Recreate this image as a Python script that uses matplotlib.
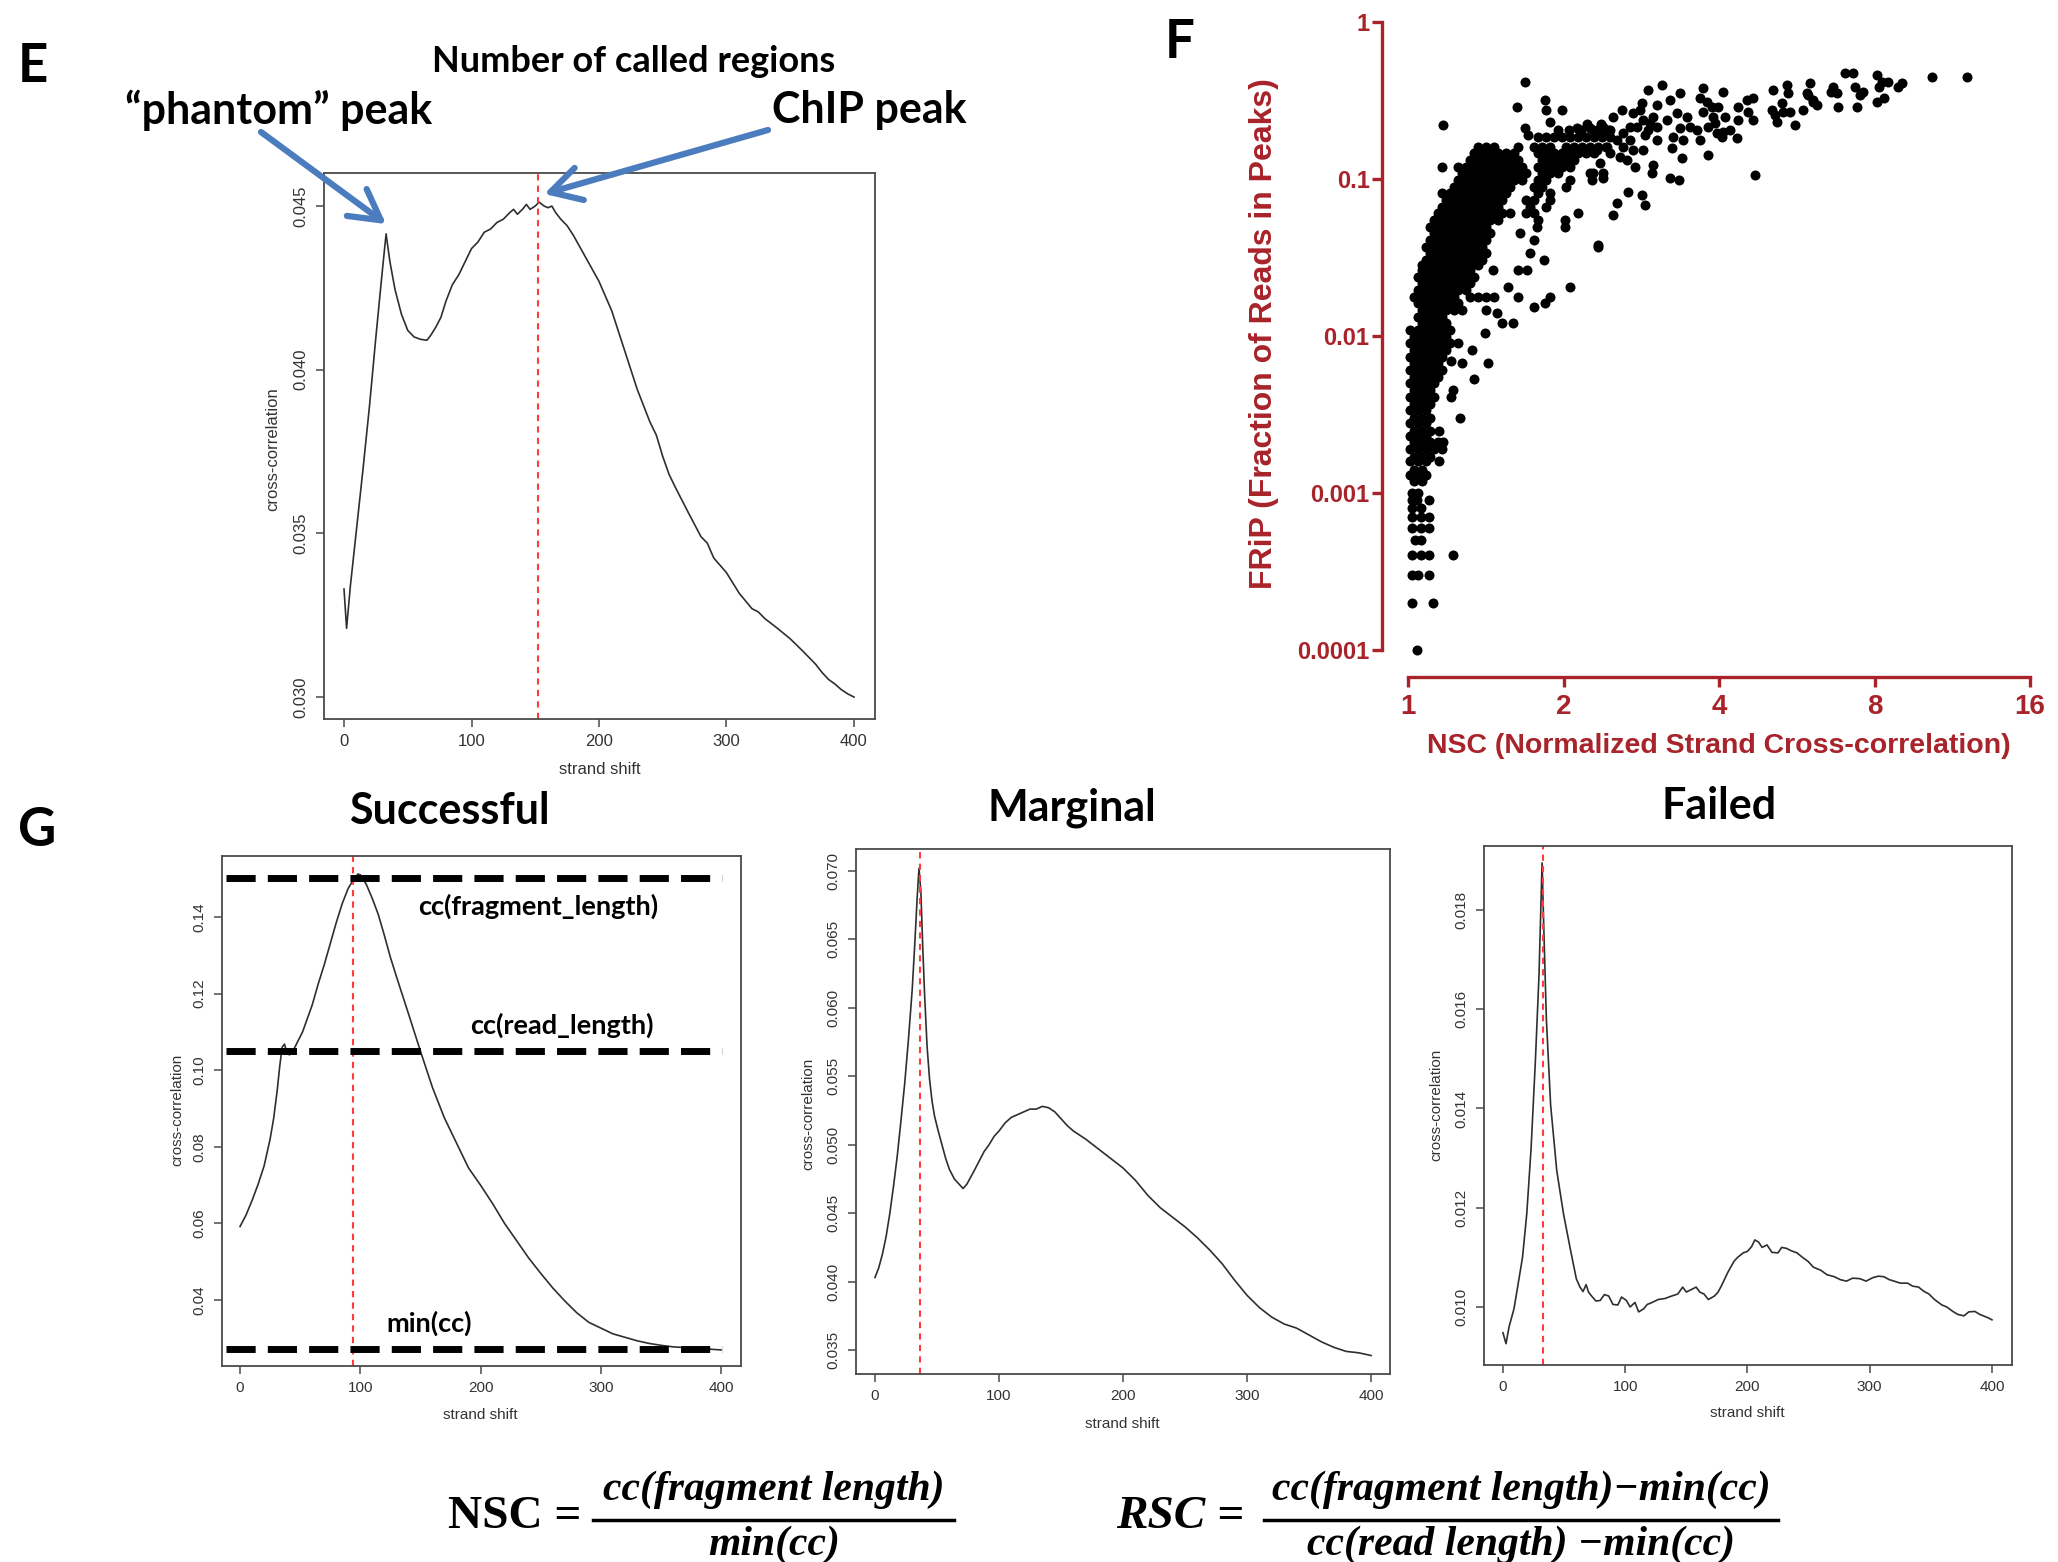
import numpy as np
import matplotlib.pyplot as plt
from matplotlib.lines import Line2D
from matplotlib.ticker import NullLocator

plt.rcParams['font.family'] = ['Liberation Sans', 'DejaVu Sans']

W, H = 2058, 1562

# ---- panel E: cross-correlation profile ----
e_shift = [0, 2, 5, 10, 15, 20, 25, 30, 33, 36, 40, 45, 50, 55, 60, 65, 68, 72, 76, 80,
           85, 90, 95, 100, 105, 110, 115, 120, 125, 130, 133, 136, 140, 143, 146, 150, 153, 157, 160, 163,
           166, 170, 175, 180, 190, 200, 210, 220, 230, 240, 245, 250, 255, 260, 270, 280, 285, 290, 300, 310,
           320, 325, 330, 340, 350, 360, 370, 375, 380, 385, 390, 395, 400]
e_cc = [0.0333, 0.0321, 0.0334, 0.0352, 0.0370, 0.0389, 0.0410, 0.0430, 0.04415, 0.0433,
        0.04245, 0.0417, 0.0412, 0.0410, 0.04093, 0.0409, 0.04105, 0.0413, 0.0416, 0.0421,
        0.0426, 0.0429, 0.0433, 0.0437, 0.0439, 0.0442, 0.0443, 0.0445, 0.0446, 0.0448,
        0.0449, 0.04475, 0.0449, 0.04505, 0.0449, 0.0450, 0.04512, 0.0450, 0.04495, 0.0450,
        0.0448, 0.0446, 0.0444, 0.0441, 0.0434, 0.0427, 0.0418, 0.0406, 0.0394, 0.0384,
        0.0380, 0.03735, 0.0368, 0.0364, 0.03564, 0.0349, 0.0347, 0.03425, 0.0338, 0.03317,
        0.0327, 0.0326, 0.0324, 0.0321, 0.03178, 0.0314, 0.0310, 0.03075, 0.03054, 0.0304,
        0.03023, 0.0301, 0.0300]
e_fragment_shift = 152
e_phantom_tip = (33, 0.04445)
e_chip_tip = (157, 0.04537)

# ---- panel G: successful / marginal / failed ----
succ_shift = [0, 5, 10, 15, 20, 25, 28, 31, 33, 35, 37, 39, 41, 44, 48, 52, 56, 60, 65, 70,
              75, 80, 85, 90, 95, 98, 100, 105, 110, 115, 120, 125, 130, 140, 150, 160, 170, 180, 190, 200,
              210, 220, 230, 240, 250, 260, 270, 280, 290, 300, 310, 320, 330, 340, 350, 360, 370, 380, 390, 400]
succ_cc = [0.0592, 0.0622, 0.0660, 0.0702, 0.0750, 0.0820, 0.0875, 0.0950, 0.1010, 0.1060,
           0.1068, 0.1045, 0.1040, 0.1050, 0.1075, 0.1100, 0.1135, 0.1170, 0.1225, 0.1275,
           0.1330, 0.1385, 0.1435, 0.1475, 0.1500, 0.1512, 0.1510, 0.1485, 0.1448, 0.1406,
           0.1352, 0.1295, 0.1245, 0.1148, 0.1050, 0.0955, 0.0875, 0.0810, 0.0745, 0.0700,
           0.0652, 0.0600, 0.0555, 0.0510, 0.0470, 0.0432, 0.0398, 0.0367, 0.0342, 0.0327,
           0.0312, 0.0303, 0.0294, 0.0287, 0.0282, 0.0278, 0.0276, 0.0274, 0.0272, 0.0270]
succ_fragment_shift = 94
succ_levels = [0.1502, 0.1050, 0.0272]
succ_level_names = ['cc(fragment_length)', 'cc(read_length)', 'min(cc)']
succ_level_text_pos = [(248, 0.1428), (268, 0.1118), (157, 0.0339)]

marg_shift = [0, 3, 6, 9, 12, 15, 18, 21, 24, 27, 30, 32, 34, 35.5, 37, 38.5, 40, 42, 44, 46,
              48, 51, 54, 57, 60, 64, 68, 71, 74, 77, 80, 84, 88, 92, 96, 100, 105, 110, 115, 120,
              125, 130, 135, 140, 145, 150, 155, 160, 170, 180, 190, 200, 210, 220, 230, 240, 250, 260, 270, 280,
              290, 300, 310, 320, 330, 340, 350, 360, 370, 380, 390, 400]
marg_cc = [0.0403, 0.0410, 0.0420, 0.0433, 0.0450, 0.0470, 0.0492, 0.0518, 0.0545, 0.0577,
           0.0613, 0.0645, 0.0680, 0.0702, 0.0685, 0.0645, 0.0610, 0.0572, 0.0548, 0.0532,
           0.0521, 0.0510, 0.0500, 0.0490, 0.0482, 0.0475, 0.0471, 0.0468, 0.0471, 0.0476,
           0.0481, 0.0488, 0.0495, 0.0500, 0.0506, 0.0510, 0.0516, 0.0520, 0.0522, 0.0524,
           0.0526, 0.0526, 0.0528, 0.0527, 0.0524, 0.0519, 0.0514, 0.0510, 0.0504, 0.0497,
           0.0490, 0.0483, 0.0474, 0.0463, 0.0454, 0.0447, 0.0440, 0.0432, 0.0423, 0.0413,
           0.0401, 0.0390, 0.0381, 0.0374, 0.0369, 0.0366, 0.0361, 0.0356, 0.0352, 0.0349,
           0.0348, 0.0346]
marg_fragment_shift = 36

fail_shift = [0, 2.5, 5, 9, 12, 16, 19.5, 23, 26.5, 29.5,
              32, 33.5, 35.5, 39, 44, 49.5, 55, 60, 63, 65.5,
              68, 70, 72.5, 76, 79.5, 83, 86.5, 90, 94, 97,
              101, 104, 108, 111, 115, 118, 122, 127, 132.5, 138,
              143, 147, 150, 154, 158, 161, 164.5, 168, 173, 176,
              179, 184, 189, 192, 196.5, 200, 203.5, 206, 209, 212,
              216, 220, 225, 228, 232, 236, 240.5, 245, 249.5, 254,
              260, 265, 271, 276, 281, 286, 292, 297, 302.5, 307,
              311.5, 316, 320, 325, 331, 335, 340, 344, 348.5, 353,
              359, 363, 368, 372, 377, 381, 386, 390, 393, 397,
              400]
fail_cc = [0.00948, 0.00926, 0.00960, 0.00996, 0.0104, 0.0110, 0.01188, 0.01319, 0.01494, 0.01669,
           0.01895, 0.01756, 0.01581, 0.01407, 0.01275, 0.01188, 0.01118, 0.01057, 0.01040, 0.01031,
           0.01045, 0.01030, 0.01022, 0.01012, 0.01013, 0.01025, 0.01022, 0.01005, 0.01004, 0.01020,
           0.01013, 0.01000, 0.01009, 0.00990, 0.00996, 0.01005, 0.01009, 0.01015, 0.01017, 0.01022,
           0.01026, 0.01040, 0.01030, 0.01035, 0.01040, 0.01030, 0.01026, 0.01015, 0.01022, 0.01030,
           0.01044, 0.0107, 0.01092, 0.01100, 0.01109, 0.01112, 0.01122, 0.01135, 0.01131, 0.01120,
           0.01125, 0.01110, 0.01109, 0.01120, 0.01118, 0.01113, 0.01109, 0.01100, 0.01092, 0.01080,
           0.01074, 0.01065, 0.01061, 0.01055, 0.01052, 0.01058, 0.01057, 0.01052, 0.01059, 0.01062,
           0.01061, 0.01055, 0.01052, 0.01048, 0.01048, 0.01042, 0.0104, 0.01032, 0.01026, 0.01015,
           0.01004, 0.01000, 0.00991, 0.00985, 0.00982, 0.00990, 0.00991, 0.00985, 0.00982, 0.00978,
           0.00974]
fail_fragment_shift = 32.6

# ---- panel F: FRiP vs NSC per dataset ----
# dense part of the cloud, one FRiP level per row with the NSC values found on it
rows_upper = [
    (0.225, [2.22, 2.36]),
    (0.205, [1.95, 2.05, 2.16, 2.28, 2.40]),
    (0.185, [1.785, 1.850, 1.917, 1.987, 2.059, 2.133, 2.211, 2.291, 2.374, 2.461]),
    (0.160, [1.366, 1.416, 1.467, 1.633, 1.754, 1.817, 1.883, 2.022, 2.096, 2.172, 2.251, 2.333, 2.417]),
    (0.146, [1.342, 1.391, 1.441, 1.494, 1.548, 1.604, 1.785, 1.850, 1.917, 1.987, 2.059, 2.133, 2.211, 2.291]),
    (0.132, [1.318, 1.366, 1.416, 1.467, 1.521, 1.576, 1.633, 1.817, 1.883, 1.952, 2.022, 2.096]),
    (0.119, [1.164, 1.250, 1.295, 1.342, 1.391, 1.441, 1.494, 1.548, 1.604, 1.662, 1.785, 1.850, 1.917, 1.987, 2.059]),
    (0.109, [1.272, 1.318, 1.366, 1.416, 1.467, 1.521, 1.576, 1.633, 1.692, 1.817, 1.883, 1.952, 2.251, 2.39]),
    (0.0986, [1.250, 1.295, 1.342, 1.391, 1.441, 1.494, 1.548, 1.604, 1.662, 1.785, 1.850, 2.059]),
    (0.0889, [1.228, 1.272, 1.318, 1.366, 1.416, 1.467, 1.521, 1.576, 1.754, 1.817, 2.022]),
    (0.0815, [1.164, 1.206, 1.250, 1.295, 1.342, 1.391, 1.441, 1.494, 1.548, 1.785, 1.883]),
    (0.0735, [1.185, 1.228, 1.272, 1.318, 1.366, 1.416, 1.467, 1.521, 1.692, 1.754, 1.883]),
    (0.0664, [1.164, 1.206, 1.250, 1.295, 1.342, 1.391, 1.441, 1.494, 1.723, 1.850]),
    (0.0607, [1.143, 1.185, 1.228, 1.272, 1.318, 1.366, 1.416, 1.467, 1.521, 1.576, 1.692, 1.754, 2.13]),
    (0.0548, [1.123, 1.164, 1.206, 1.250, 1.295, 1.342, 1.391, 1.441, 1.494, 1.785, 2.01]),
    (0.0495, [1.103, 1.143, 1.185, 1.228, 1.272, 1.318, 1.366, 1.416, 1.78, 2.01]),
    (0.0453, [1.123, 1.164, 1.206, 1.250, 1.295, 1.342, 1.391, 1.441, 1.648]),
    (0.0409, [1.103, 1.143, 1.185, 1.228, 1.272, 1.318, 1.366, 1.416, 1.754]),
    (0.0369, [1.084, 1.123, 1.164, 1.206, 1.250, 1.295, 1.342, 1.391, 2.33]),
    (0.0338, [1.103, 1.143, 1.185, 1.228, 1.272, 1.318, 1.366, 1.416, 1.723]),
    (0.0305, [1.084, 1.123, 1.164, 1.206, 1.250, 1.295, 1.342, 1.391, 1.83]),
    (0.0284, [1.064, 1.103, 1.143, 1.185, 1.228, 1.272, 1.318, 1.366]),
]
rows_middle = [
    (0.0263, [1.064, 1.103, 1.143, 1.185, 1.228, 1.272, 1.318, 1.46, 1.63, 1.70]),
    (0.0238, [1.045, 1.084, 1.123, 1.164, 1.206, 1.250, 1.295, 1.342]),
    (0.0218, [1.064, 1.103, 1.143, 1.185, 1.228, 1.272, 1.318]),
    (0.0205, [1.56, 2.06]),
    (0.0196, [1.045, 1.084, 1.123, 1.164, 1.206, 1.250, 1.295]),
    (0.0177, [1.027, 1.064, 1.103, 1.143, 1.185, 1.228, 1.318, 1.366, 1.416, 1.47, 1.63, 1.88]),
    (0.0162, [1.045, 1.084, 1.123, 1.164, 1.206, 1.250, 1.84]),
    (0.0153, [1.75]),
    (0.0146, [1.064, 1.103, 1.143, 1.185, 1.228, 1.272, 1.416]),
    (0.0140, [1.49]),
    (0.0132, [1.045, 1.084, 1.123, 1.164]),
    (0.0121, [1.064, 1.103, 1.143, 1.185, 1.52, 1.60]),
    (0.0109, [1.009, 1.045, 1.084, 1.123, 1.164, 1.206]),
    (0.0105, [1.41]),
    (0.0099, [1.027, 1.064, 1.103, 1.143, 1.185]),
    (0.0090, [1.009, 1.045, 1.084, 1.123, 1.164, 1.206, 1.250]),
    (0.0081, [1.027, 1.064, 1.103, 1.143, 1.185, 1.33]),
    (0.0073, [1.009, 1.045, 1.084, 1.123, 1.164]),
    (0.0069, [1.21]),
    (0.0067, [1.027, 1.064, 1.103, 1.143, 1.27, 1.43]),
    (0.0061, [1.009, 1.045, 1.084, 1.123, 1.164]),
    (0.0055, [1.027, 1.064, 1.103, 1.143]),
    (0.0053, [1.34]),
    (0.0050, [1.009, 1.045, 1.084, 1.123]),
]
rows_lower = [
    (0.0045, [1.027, 1.064, 1.103, 1.22]),
    (0.0041, [1.009, 1.045, 1.084, 1.123, 1.21]),
    (0.0037, [1.027, 1.064, 1.103]),
    (0.0034, [1.009, 1.045, 1.084]),
    (0.0030, [1.027, 1.064, 1.103, 1.26]),
    (0.0028, [1.009, 1.045, 1.084]),
    (0.0025, [1.027, 1.064, 1.103, 1.15]),
    (0.0023, [1.009, 1.045, 1.084]),
    (0.0021, [1.027, 1.064, 1.103, 1.143, 1.17]),
    (0.0019, [1.009, 1.045, 1.084, 1.123, 1.164]),
    (0.0017, [1.027, 1.064, 1.103]),
    (0.0016, [1.009, 1.045, 1.084, 1.15]),
    (0.0014, [1.027, 1.064]),
    (0.0013, [1.009, 1.045, 1.084]),
    (0.0012, [1.027, 1.064]),
    (0.0010, [1.02, 1.045]),
    (0.0009, [1.02, 1.04, 1.10]),
    (0.0008, [1.02, 1.06]),
    (0.0007, [1.02, 1.06, 1.10]),
    (0.0006, [1.02, 1.06, 1.10]),
    (0.0005, [1.03, 1.06]),
    (0.0004, [1.02, 1.06, 1.10, 1.22]),
    (0.0003, [1.02, 1.045, 1.10]),
    (0.0002, [1.02, 1.12]),
    (0.0001, [1.04]),
]
# scattered datasets with higher NSC: (nsc, frip)
points_spread = [
    (12.08, 0.447), (10.34, 0.447), (9.04, 0.409), (8.89, 0.385), (8.5, 0.415), (8.27, 0.415),
    (8.09, 0.46), (8.18, 0.385), (8.33, 0.328), (8.1, 0.31), (7.27, 0.473), (7.02, 0.473),
    (7.33, 0.385), (7.6, 0.36), (7.5, 0.343), (7.4, 0.288), (6.8, 0.288), (6.64, 0.385),
    (6.6, 0.36), (6.77, 0.353), (6.0, 0.409), (5.92, 0.353), (6.07, 0.319), (6.19, 0.296),
    (5.82, 0.275), (5.95, 0.343), (6.07, 0.31), (5.61, 0.221), (5.49, 0.267), (5.42, 0.397),
    (5.44, 0.353), (5.3, 0.305), (5.33, 0.267), (5.18, 0.231), (5.09, 0.369), (5.07, 0.275),
    (5.14, 0.256), (4.07, 0.358), (4.35, 0.288), (4.53, 0.319), (4.65, 0.328), (4.55, 0.267),
    (4.35, 0.238), (4.65, 0.238), (4.2, 0.205), (4.33, 0.183), (4.05, 0.185), (4.11, 0.249),
    (3.98, 0.288), (3.93, 0.228), (4.7, 0.106), (3.72, 0.38), (3.68, 0.328), (3.79, 0.31),
    (3.88, 0.288), (3.72, 0.267), (3.89, 0.249), (3.81, 0.215), (3.96, 0.196), (4.07, 0.199),
    (3.63, 0.205), (3.68, 0.177), (3.81, 0.142), (3.10, 0.397), (3.36, 0.353), (3.21, 0.319),
    (3.03, 0.296), (2.91, 0.369), (2.84, 0.305), (3.32, 0.263), (3.47, 0.249), (3.17, 0.238),
    (3.51, 0.215), (3.36, 0.211), (3.26, 0.185), (3.41, 0.177), (3.24, 0.158), (3.39, 0.136),
    (3.21, 0.101), (3.34, 0.099), (2.98, 0.123), (2.97, 0.109), (2.75, 0.12), (3.03, 0.177),
    (2.88, 0.19), (2.69, 0.215), (2.67, 0.0825), (2.84, 0.079), (2.54, 0.0703), (2.88, 0.0681),
    (2.49, 0.059), (2.33, 0.038), (2.39, 0.101), (2.27, 0.099), (2.32, 0.196), (2.39, 0.215),
    (2.46, 0.205), (2.54, 0.177), (2.61, 0.196), (2.69, 0.177), (2.78, 0.215), (2.85, 0.238),
    (2.94, 0.228), (2.61, 0.160), (2.46, 0.146), (2.35, 0.126), (2.28, 0.109), (2.43, 0.160),
    (2.73, 0.153), (2.85, 0.153), (2.32, 0.153), (2.57, 0.138), (2.65, 0.132), (2.49, 0.249),
    (2.73, 0.263), (2.60, 0.275), (2.81, 0.275), (2.91, 0.205), (3.03, 0.215), (2.98, 0.249),
    (1.685, 0.415), (1.626, 0.287), (1.842, 0.319), (1.85, 0.275), (1.99, 0.275), (1.88, 0.231),
    (1.17, 0.22), (1.685, 0.211), (1.71, 0.19), (2.12, 0.211), (2.25, 0.211), (2.35, 0.211),
    (2.44, 0.205),
]
nsc_ticks = [1, 2, 4, 8, 16]
frip_ticks = [0.0001, 0.001, 0.01, 0.1, 1]
frip_tick_labels = ['0.0001', '0.001', '0.01', '0.1', '1']

BOX = '#4a4a4a'
TICK_TXT = '#333333'
CURVE = '#2f2f2f'
RED_DASH = '#ff3b3b'
DARK_RED = '#a8232a'
BLUE = '#4b7dbe'
TITLE_FONT = ['Lato', 'DejaVu Sans']
SERIF = ['Liberation Serif', 'DejaVu Serif']


def px_rect(left, top, right, bottom):
    return [left / W, 1 - bottom / H, (right - left) / W, (bottom - top) / H]


def fig_xy(px, py):
    return px / W, 1 - py / H


def r_plot(ax, shift, cc, peak, xlim, ylim, yticks, ylabels, label_xy, tick_size=11):
    ax.plot(shift, cc, color=CURVE, lw=1.2)
    ax.axvline(peak, color=RED_DASH, lw=1.5, dashes=(3, 2.5))
    ax.set_xlim(xlim)
    ax.set_ylim(ylim)
    ax.set_xticks([0, 100, 200, 300, 400])
    ax.set_yticks(yticks)
    ax.set_yticklabels(ylabels, rotation=90, va='center')
    for s in ax.spines.values():
        s.set_color(BOX)
        s.set_linewidth(1.3)
    ax.tick_params(direction='out', length=6, width=1.1, colors=BOX,
                   labelcolor=TICK_TXT, labelsize=tick_size, pad=5)
    ax.set_xlabel('strand shift', fontsize=tick_size, color=TICK_TXT)
    ax.set_ylabel('cross-correlation', fontsize=tick_size, color=TICK_TXT)
    (xlx, xly), (ylx, yly) = label_xy
    ax.xaxis.set_label_coords(xlx, xly)
    ax.xaxis.label.set_va('center')
    ax.yaxis.set_label_coords(ylx, yly)
    ax.yaxis.label.set_va('center')


fig = plt.figure(figsize=(W / 100, H / 100), dpi=100)

# ---- E ----
axe = fig.add_axes(px_rect(324, 173, 875, 719))
r_plot(axe, e_shift, e_cc, e_fragment_shift, (-15.7, 416.5), (0.02933, 0.04601),
       [0.030, 0.035, 0.040, 0.045], ['0.030', '0.035', '0.040', '0.045'],
       ((0.501, -0.0916), (-0.0926, 0.4945)), tick_size=12)

arrow_kw = dict(arrowstyle='->,head_length=0.9,head_width=0.5', lw=4.5, color=BLUE,
                mutation_scale=24, shrinkA=0, shrinkB=0)
axe.annotate('', xy=e_phantom_tip, xycoords='data', xytext=fig_xy(261, 132),
             textcoords='figure fraction', arrowprops=arrow_kw, annotation_clip=False)
axe.annotate('', xy=e_chip_tip, xycoords='data', xytext=fig_xy(768, 130),
             textcoords='figure fraction', arrowprops=arrow_kw, annotation_clip=False)

fig.text(*fig_xy(33, 66), 'E', fontsize=38, weight='bold', family=TITLE_FONT, ha='center', va='center')
fig.text(*fig_xy(634, 61), 'Number of called regions', fontsize=26, weight='bold', family=TITLE_FONT,
         ha='center', va='center')
fig.text(*fig_xy(279, 110), '\u201cphantom\u201d peak', fontsize=31, weight='bold', family=TITLE_FONT,
         ha='center', va='center')
fig.text(*fig_xy(869, 110), 'ChIP peak', fontsize=31, weight='bold', family=TITLE_FONT,
         ha='center', va='center')

# ---- F ----
axf = fig.add_axes(px_rect(1382, 22, 2030, 677))
axf.set_xscale('log', base=2)
axf.set_yscale('log')
axf.set_xlim(2 ** (-26 / 155.5), 16)
axf.set_ylim(10 ** (-655 / 157), 1)

nsc_pts, frip_pts = [], []
for rows in (rows_upper, rows_middle, rows_lower):
    for frip, nscs in rows:
        nsc_pts += nscs
        frip_pts += [frip] * len(nscs)
for nsc, frip in points_spread:
    nsc_pts.append(nsc)
    frip_pts.append(frip)
axf.scatter(nsc_pts, frip_pts, s=52, c='black', linewidths=0, clip_on=False)

for side in ('top', 'right'):
    axf.spines[side].set_visible(False)
axf.spines['left'].set_bounds(1e-4, 1)
axf.spines['bottom'].set_bounds(1, 16)
for side in ('left', 'bottom'):
    axf.spines[side].set_color(DARK_RED)
    axf.spines[side].set_linewidth(2.4)
axf.set_xticks(nsc_ticks)
axf.set_xticklabels([str(t) for t in nsc_ticks])
axf.set_yticks(frip_ticks)
axf.set_yticklabels(frip_tick_labels)
axf.xaxis.set_minor_locator(NullLocator())
axf.yaxis.set_minor_locator(NullLocator())
axf.tick_params(direction='out', length=7, width=2.4, colors=DARK_RED, labelcolor=DARK_RED)
axf.tick_params(axis='x', labelsize=20, pad=5)
axf.tick_params(axis='y', labelsize=17, pad=2)
for lab in axf.get_xticklabels() + axf.get_yticklabels():
    lab.set_fontweight('bold')
axf.set_xlabel('NSC (Normalized Strand Cross-correlation)', fontsize=20.5, weight='bold', color=DARK_RED)
axf.set_ylabel('FRiP (Fraction of Reads in Peaks)', fontsize=23, weight='bold', color=DARK_RED)
axf.xaxis.set_label_coords(0.52, -0.105)
axf.xaxis.label.set_va('center')
axf.yaxis.set_label_coords(-0.182, 0.525)
axf.yaxis.label.set_va('center')

fig.text(*fig_xy(1180, 43), 'F', fontsize=38, weight='bold', family=TITLE_FONT, ha='center', va='center')

# ---- G ----
axs = fig.add_axes(px_rect(222, 856, 741, 1366))
r_plot(axs, succ_shift, succ_cc, succ_fragment_shift, (-15.0, 416.6), (0.0228, 0.1559),
       [0.04, 0.06, 0.08, 0.10, 0.12, 0.14], ['0.04', '0.06', '0.08', '0.10', '0.12', '0.14'],
       ((0.497, -0.096), (-0.0867, 0.502)))
for level, name, (tx, ty) in zip(succ_levels, succ_level_names, succ_level_text_pos):
    axs.plot([-12, 401], [level, level], color='black', lw=5, dashes=(4.2, 1.75))
    axs.text(tx, ty, name, fontsize=19.5, weight='bold', family=TITLE_FONT, ha='center', va='center')

axm = fig.add_axes(px_rect(856, 849, 1390, 1374))
r_plot(axm, marg_shift, marg_cc, marg_fragment_shift, (-15.3, 415.3), (0.03325, 0.0716),
       [0.035, 0.040, 0.045, 0.050, 0.055, 0.060, 0.065, 0.070],
       ['0.035', '0.040', '0.045', '0.050', '0.055', '0.060', '0.065', '0.070'],
       ((0.498, -0.095), (-0.0899, 0.495)))

axfl = fig.add_axes(px_rect(1484, 846, 2012, 1365))
r_plot(axfl, fail_shift, fail_cc, fail_fragment_shift, (-15.5, 416.4), (0.00883, 0.01929),
       [0.010, 0.012, 0.014, 0.016, 0.018], ['0.010', '0.012', '0.014', '0.016', '0.018'],
       ((0.498, -0.0925), (-0.0909, 0.501)))

fig.text(*fig_xy(37, 830), 'G', fontsize=38, weight='bold', family=TITLE_FONT, ha='center', va='center')
fig.text(*fig_xy(449, 811), 'Successful', fontsize=31, weight='bold', family=TITLE_FONT, ha='center', va='center')
fig.text(*fig_xy(1072, 808), 'Marginal', fontsize=31, weight='bold', family=TITLE_FONT, ha='center', va='center')
fig.text(*fig_xy(1719, 806), 'Failed', fontsize=31, weight='bold', family=TITLE_FONT, ha='center', va='center')

# ---- NSC / RSC definitions ----
fig.text(*fig_xy(515, 1517), 'NSC =', fontsize=34, weight='bold', family=SERIF, ha='center', va='center')
fig.text(*fig_xy(774, 1490), 'cc(fragment length)', fontsize=30, weight='bold', style='italic',
         family=SERIF, ha='center', va='center')
fig.text(*fig_xy(774, 1545), 'min(cc)', fontsize=30, weight='bold', style='italic',
         family=SERIF, ha='center', va='center')
fig.add_artist(Line2D([593 / W, 954 / W], [1 - 1520 / H] * 2, color='black', lw=2.5))

fig.text(*fig_xy(1180, 1517), 'RSC =', fontsize=34, weight='bold', style='italic', family=SERIF,
         ha='center', va='center')
fig.text(*fig_xy(1521, 1490), 'cc(fragment length)\u2212min(cc)', fontsize=30, weight='bold', style='italic',
         family=SERIF, ha='center', va='center')
fig.text(*fig_xy(1521, 1545), 'cc(read length) \u2212min(cc)', fontsize=30, weight='bold', style='italic',
         family=SERIF, ha='center', va='center')
fig.add_artist(Line2D([1264 / W, 1778 / W], [1 - 1520 / H] * 2, color='black', lw=2.5))

fig.savefig('out.png', dpi=100, facecolor='white')
